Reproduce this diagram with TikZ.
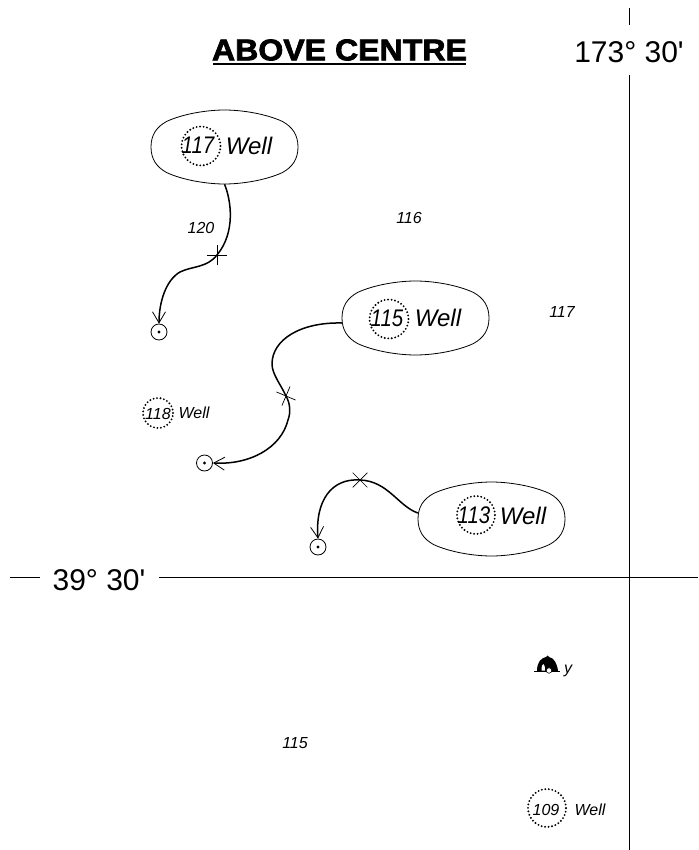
\documentclass[tikz,border=0pt]{standalone}
\usepackage{fontspec}
\setmainfont{Liberation Sans}
\newfontfamily\titlefont[FakeBold=2.4,FakeStretch=1.07]{Liberation Sans Bold}
\newfontfamily\coordfont{Liberation Sans}
\usetikzlibrary{arrows.meta,shapes.misc}
\tikzset{
  blobbox/.style={rectangle,minimum width=147pt,minimum height=74pt,inner sep=0pt},
  blobline/.style={draw=black,line width=0.8pt},
  dotring/.style={draw=black,circle,inner sep=0pt,line width=2.1pt,line cap=round,dash pattern=on 0pt off 3.5pt},
  mapline/.style={draw=black,line width=0.8pt},
  route/.style={draw=black,line width=1.5pt,-{Straight Barb[length=11pt,width=13pt,line width=0.8pt]}},
  posring/.style={draw=black,circle,minimum size=16pt,inner sep=0pt,line width=0.8pt},
  crossmark/.style={cross out,draw=black,minimum size=14pt,inner sep=0pt,line width=0.7pt},
  bigtext/.style={font=\fontsize{24}{26}\selectfont\itshape,inner sep=0pt},
  smalltext/.style={font=\fontsize{16}{18}\selectfont\itshape,inner sep=0pt},
  coordtext/.style={font=\fontsize{30}{32}\selectfont\coordfont,inner sep=0pt},
}
\newcommand{\narrownum}[1]{\scalebox{0.85}[1]{#1}}
\newcommand{\wellblob}[3]{%
  \node[blobbox] (#1) at (#2,#3) {};
  \begin{scope}[shift={(#2,#3)}]
  \draw[blobline] (-73.5,0) .. controls (-73.5,-12) and (-68,-20) .. (-58,-25.5)
     .. controls (-42,-33) and (-18,-37) .. (0,-37)
     .. controls (18,-37) and (42,-33) .. (58,-25.5)
     .. controls (68,-20) and (73.5,-12) .. (73.5,0)
     .. controls (73.5,12) and (68,20) .. (58,25.5)
     .. controls (42,33) and (18,37) .. (0,37)
     .. controls (-18,37) and (-42,33) .. (-58,25.5)
     .. controls (-68,20) and (-73.5,12) .. (-73.5,0) -- cycle;
  \end{scope}}
\newcommand{\posmark}[3]{%
  \node[posring] (#1) at (#2,#3) {};
  \fill[black] (#1.center) circle (1.7pt);}
\begin{document}
\begin{tikzpicture}[x=1pt,y=-1pt]
\useasboundingbox (0,0) rectangle (698,850);
% grid lines
\coordinate (v0) at (629,8); \coordinate (v1) at (629,25);
\coordinate (v2) at (629,75); \coordinate (v3) at (629,850);
\coordinate (h0) at (10,577); \coordinate (h1) at (40,577);
\coordinate (h2) at (159,577); \coordinate (h3) at (698,577);
\draw[mapline] (v0) -- (v1) (v2) -- (v3) (h0) -- (h1) (h2) -- (h3);
% headings
\node[inner sep=0pt,font=\fontsize{30}{32}\selectfont\titlefont] (title) at (339.5,50) {ABOVE CENTRE};
\coordinate (ul0) at (213,64); \coordinate (ul1) at (466,64);
\draw[black,line width=2.2pt] (ul0) -- (ul1);
\node[coordtext] (lon) at (629,52) {173° 30'};
\node[coordtext] (lat) at (99,580) {39° 30'};
% blobs
\wellblob{w117}{224.5}{147}
\wellblob{w115}{415.5}{318}
\wellblob{w113}{491.5}{519}
% well rings
\node[dotring,minimum size=39pt] (r117) at (201,146) {};
\node[bigtext] (n117) at (198,145.7) {\narrownum{117}};
\node[bigtext] (l117) at (249,145.5) {Well};
\node[dotring,minimum size=39pt] (r115) at (389,319) {};
\node[bigtext] (n115) at (387,318.5) {\narrownum{115}};
\node[bigtext] (l115) at (438,317.5) {Well};
\node[dotring,minimum size=38pt] (r113) at (476,515) {};
\node[bigtext] (n113) at (474,515.7) {\narrownum{113}};
\node[bigtext] (l113) at (523,515.5) {Well};
\node[dotring,minimum size=30pt] (r118) at (158,413) {};
\node[smalltext] (n118) at (158,414) {118};
\node[smalltext] (l118) at (194,413) {Well};
\node[dotring,minimum size=38pt] (r109) at (547,808) {};
\node[smalltext] (n109) at (546,810) {109};
\node[smalltext] (l109) at (590,810) {Well};
% free numbers
\node[smalltext] (s120) at (201,228) {120};
\node[smalltext] (s116) at (409,218) {116};
\node[smalltext] (s117) at (562,312) {117};
\node[smalltext] (s115) at (295,743) {115};
% targets and crosses
\posmark{t1}{159}{332}
\posmark{t2}{204.5}{463}
\posmark{t3}{318}{547}
\node[crossmark,rotate=45] (c1) at (217,255) {};
\node[crossmark,rotate=-68] (c2) at (286,396) {};
\node[crossmark] (c3) at (360,480) {};
% routes
\draw[route] (w117.south) .. controls (231,200) and (236,232) .. (c1.center)
   .. controls (207,268) and (192,266) .. (180,272)
   .. controls (166,280) and (159,302) .. (t1.north);
\draw[route] ([yshift=-5pt]w115.west) .. controls (300,322) and (272,340) .. (272,364)
   .. controls (272,374) and (281,385) .. (c2.center)
   .. controls (290,403) and (291,412) .. (288,420)
   .. controls (281,448) and (250,465) .. (t2.east);
\draw[route] ([yshift=6pt]w113.west) .. controls (398,506) and (388,481) .. (c3.center)
   .. controls (332,478) and (315,500) .. (t3.north);
% bell symbol
\coordinate (b0) at (534,671); \coordinate (b1) at (560,671);
\draw[black,line width=0.8pt] (b0) -- (b1);
\fill[black] (537,671) .. controls (537,662) and (541,658) .. (546,657)
   .. controls (546,655) and (549,655) .. (549,657)
   .. controls (554,658) and (557,663) .. (558,671) -- cycle;
\fill[white] (541.5,670.5) .. controls (541.5,667) and (542,664) .. (543.3,664)
   .. controls (544.5,664) and (545,667) .. (545,670.5) -- cycle;
\node[circle,draw=black,fill=white,minimum size=5.5pt,inner sep=0pt,line width=0.6pt] (bdot) at (549,670.5) {};
\node[smalltext] (bell) at (568,671) {y};
\end{tikzpicture}
\end{document}
